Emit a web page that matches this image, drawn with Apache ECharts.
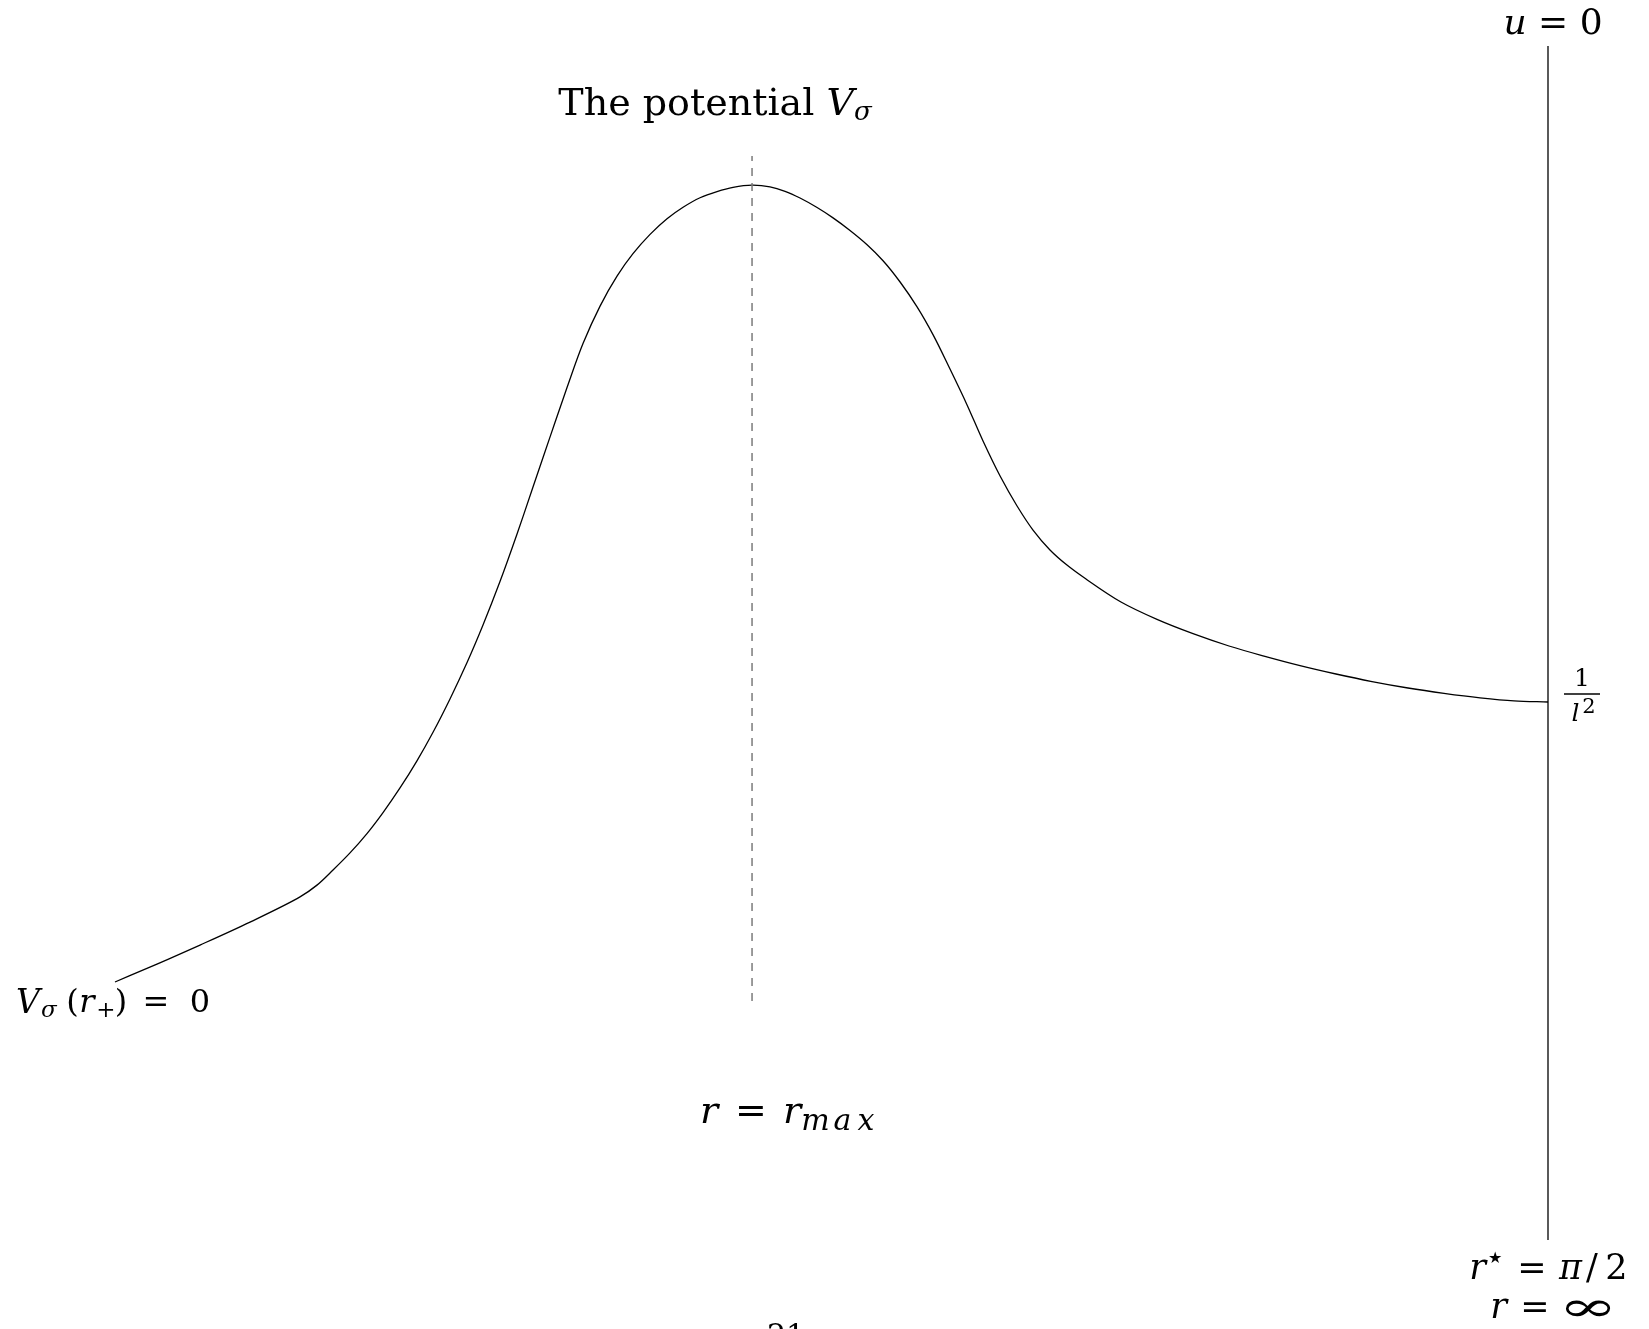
<!DOCTYPE html>
<html>
<head>
<meta charset="utf-8">
<script src="https://cdn.jsdelivr.net/npm/echarts@6/dist/echarts.min.js"></script>
<style>
  html, body { margin: 0; padding: 0; background: #fff; }
  #chart { width: 1649px; height: 1329px; }
</style>
</head>
<body>
<div id="chart"></div>
<script>
// Tortoise coordinate r* along the horizontal direction (r* = 0 at the horizon, π/2 at infinity)
const rStar = [
  0.0000, 0.0460, 0.0932, 0.1480, 0.2028, 0.2214, 0.2390, 0.2576, 0.2762, 0.2938,
  0.3124, 0.3310, 0.3486, 0.3672, 0.3859, 0.4034, 0.4220, 0.4407, 0.4582, 0.4769,
  0.4955, 0.5130, 0.5317, 0.5503, 0.5678, 0.5865, 0.6051, 0.6227, 0.6413, 0.6599,
  0.6775, 0.6983, 0.7180, 0.7345, 0.7509, 0.7696, 0.7871, 0.8057, 0.8244, 0.8419,
  0.8606, 0.8792, 0.8968, 0.9153, 0.9340, 0.9515, 0.9702, 0.9888, 1.0063, 1.0249,
  1.0435, 1.0644, 1.1027, 1.1422, 1.1817, 1.2211, 1.2595, 1.2990, 1.3384, 1.3779,
  1.4173, 1.4568, 1.4963, 1.5335, 1.5708
];
// Potential V_sigma in units of 1/l^2
const potential = [
  0.000, 0.064, 0.132, 0.214, 0.304, 0.346, 0.400, 0.461, 0.530, 0.605,
  0.693, 0.790, 0.892, 1.011, 1.141, 1.275, 1.430, 1.600, 1.768, 1.947,
  2.123, 2.280, 2.414, 2.521, 2.601, 2.670, 2.726, 2.767, 2.801, 2.823,
  2.838, 2.846, 2.840, 2.824, 2.800, 2.766, 2.729, 2.684, 2.633, 2.576,
  2.500, 2.411, 2.311, 2.189, 2.061, 1.932, 1.807, 1.700, 1.614, 1.543,
  1.489, 1.439, 1.357, 1.295, 1.244, 1.200, 1.164, 1.130, 1.100, 1.073,
  1.050, 1.031, 1.015, 1.004, 1.000
];
// Location of the maximum and extent of the dashed marker through it
const rMax = 0.6983;
const rMaxLineV = [-0.068, 2.95];
// Conformal boundary u = 0 (r* = π/2) and its vertical extent
const rBoundary = Math.PI / 2;
const boundaryV = [-0.921, 3.343];

const serif = '"DejaVu Serif", "Liberation Serif", serif';
const up = (size, extra) => Object.assign({ fontFamily: serif, fontSize: size, fill: '#000', align: 'center' }, extra || {});
const it = (size, extra) => up(size, Object.assign({ fontStyle: 'italic' }, extra || {}));

const curve = rStar.map((r, i) => [r, potential[i]]);

// Centripetal Catmull-Rom spline through the projected points, as cubic Bézier path data
function splinePath(pts) {
  const n = pts.length;
  const get = (i) => {
    if (i < 0) return [2 * pts[0][0] - pts[1][0], 2 * pts[0][1] - pts[1][1]];
    if (i >= n) return [2 * pts[n - 1][0] - pts[n - 2][0], 2 * pts[n - 1][1] - pts[n - 2][1]];
    return pts[i];
  };
  const dist = (a, b) => Math.pow(Math.hypot(b[0] - a[0], b[1] - a[1]), 0.5);
  let d = 'M' + pts[0][0].toFixed(2) + ' ' + pts[0][1].toFixed(2);
  for (let i = 0; i < n - 1; i++) {
    const p0 = get(i - 1), p1 = pts[i], p2 = pts[i + 1], p3 = get(i + 2);
    const d1 = dist(p0, p1), d2 = dist(p1, p2), d3 = dist(p2, p3);
    const b1 = [0, 1].map(k => (d1 * d1 * p2[k] - d2 * d2 * p0[k] + (2 * d1 * d1 + 3 * d1 * d2 + d2 * d2) * p1[k]) / (3 * d1 * (d1 + d2)));
    const b2 = [0, 1].map(k => (d3 * d3 * p1[k] - d2 * d2 * p3[k] + (2 * d3 * d3 + 3 * d3 * d2 + d2 * d2) * p2[k]) / (3 * d3 * (d3 + d2)));
    d += ' C' + b1[0].toFixed(2) + ' ' + b1[1].toFixed(2) + ' ' + b2[0].toFixed(2) + ' ' + b2[1].toFixed(2) + ' ' + p2[0].toFixed(2) + ' ' + p2[1].toFixed(2);
  }
  return d;
}

const chart = echarts.init(document.getElementById('chart'), null, { renderer: 'canvas' });

chart.setOption({
  animation: false,
  backgroundColor: '#ffffff',
  grid: { left: 115, right: 101, top: 2, bottom: 67 },
  xAxis: { type: 'value', min: 0, max: Math.PI / 2, show: false },
  yAxis: { type: 'value', min: -1, max: 3.5, show: false },
  series: [
    {
      name: 'V_sigma',
      type: 'custom',
      data: curve,
      clip: false,
      renderItem: function (params, api) {
        if (params.dataIndex !== 0) return null;
        const pts = curve.map(p => api.coord(p));
        return {
          type: 'path',
          shape: { pathData: splinePath(pts) },
          style: { stroke: '#000', fill: 'none', lineWidth: 1.3 }
        };
      }
    },
    {
      name: 'r_max',
      type: 'line',
      data: [[rMax, rMaxLineV[0]], [rMax, rMaxLineV[1]]],
      symbol: 'none',
      lineStyle: { color: '#7a7a7a', width: 1.5, type: [8, 7] }
    },
    {
      name: 'boundary',
      type: 'line',
      data: [[rBoundary, boundaryV[0]], [rBoundary, boundaryV[1]]],
      symbol: 'none',
      clip: false,
      lineStyle: { color: '#000', width: 1.3 }
    }
  ],
  graphic: [
    {
      type: 'text', x: 715, y: 105,
      style: {
        text: '{n|The potential }{i|V}{s|σ}',
        align: 'center', verticalAlign: 'middle', fill: '#000',
        rich: {
          n: up(38, { align: 'left' }),
          i: it(38, { align: 'left' }),
          s: it(26, { align: 'left', padding: [17, 0, 0, 0] })
        }
      }
    },
    {
      type: 'text', x: 1553, y: 25,
      style: {
        text: '{i|u}{n| = 0}',
        align: 'center', verticalAlign: 'middle', fill: '#000',
        rich: {
          n: up(36, { align: 'left' }),
          i: it(36, { align: 'left' })
        }
      }
    },
    {
      type: 'text', x: 16, y: 1004,
      style: {
        text: '{V|V}{s|σ}{p|(}{r|r}{pl|+}{p2|)}{eq|=}{z|0}',
        align: 'left', verticalAlign: 'middle', fill: '#000',
        rich: {
          V: it(33, { width: 25, align: 'left' }),
          s: it(23, { width: 26, align: 'left', padding: [14, 0, 0, 0] }),
          p: up(32, { width: 11 }),
          r: it(32, { width: 18 }),
          pl: up(23, { width: 20, padding: [14, 0, 0, 0] }),
          p2: up(32, { width: 10 }),
          eq: up(32, { width: 60 }),
          z: up(32, { width: 24, align: 'right' })
        }
      }
    },
    {
      type: 'text', x: 700, y: 1113,
      style: {
        text: '{r|r}{eq|=}{r2|r}{m|m}{a|a}{x|x}',
        align: 'left', verticalAlign: 'middle', fill: '#000',
        rich: {
          r: it(38, { width: 18, align: 'right' }),
          eq: up(38, { width: 66 }),
          r2: it(38, { width: 16, align: 'left' }),
          m: it(30, { width: 31, padding: [18, 0, 0, 0] }),
          a: it(30, { width: 23, padding: [18, 0, 0, 0] }),
          x: it(30, { width: 24, padding: [18, 0, 0, 0] })
        }
      }
    },
    {
      type: 'text', x: 1582, y: 679,
      style: {
        text: '1', align: 'center', verticalAlign: 'middle',
        fontFamily: serif, fontSize: 25, fill: '#000'
      }
    },
    {
      type: 'line',
      shape: { x1: 1564, y1: 694, x2: 1600, y2: 694 },
      style: { stroke: '#000', lineWidth: 1.4 }
    },
    {
      type: 'text', x: 1583, y: 711,
      style: {
        text: '{i|l}{p|2}',
        align: 'center', verticalAlign: 'middle', fill: '#000',
        rich: {
          i: it(25, { width: 12, padding: [7, 0, 0, 0] }),
          p: up(21, { width: 15, padding: [0, 0, 7, 0] })
        }
      }
    },
    {
      type: 'text', x: 1469, y: 1270,
      style: {
        text: '{r|r}{st|★}{eq|=}{pi|π}{sl|/}{two|2}',
        align: 'left', verticalAlign: 'middle', fill: '#000',
        rich: {
          r: it(35, { width: 17 }),
          st: up(16, { width: 18, padding: [0, 0, 22, 0] }),
          eq: up(35, { width: 56 }),
          pi: it(35, { width: 21 }),
          sl: up(35, { width: 22 }),
          two: up(35, { width: 27 })
        }
      }
    },
    {
      type: 'text', x: 1490, y: 1309,
      style: {
        text: '{r|r}{eq|=}',
        align: 'left', verticalAlign: 'middle', fill: '#000',
        rich: {
          r: it(35, { width: 17 }),
          eq: up(35, { width: 56 })
        }
      }
    },
    {
      type: 'text', x: 1588, y: 1310, scaleX: 1.7,
      style: {
        text: '∞', align: 'center', verticalAlign: 'middle',
        fontFamily: serif, fontSize: 42, fill: '#000'
      }
    },
    {
      type: 'text', x: 786, y: 1322,
      style: {
        text: '21', align: 'center', verticalAlign: 'top',
        fontFamily: serif, fontSize: 30, fill: '#000'
      }
    }
  ]
});
</script>
</body>
</html>
